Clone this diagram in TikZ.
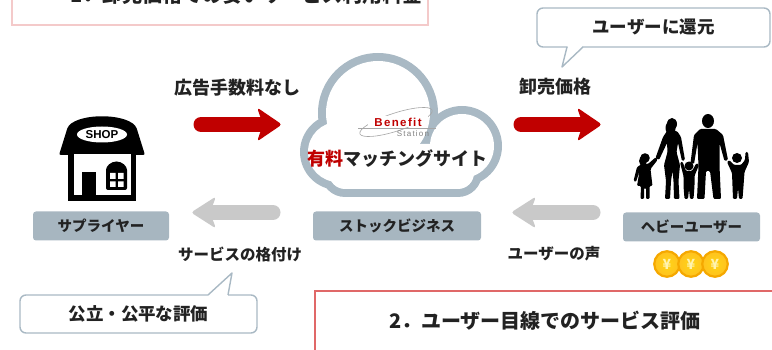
\documentclass[tikz,border=0pt]{standalone}
\usepackage{fontspec}
\setmainfont{Noto Sans CJK JP}
\newfontfamily\logofont{Liberation Sans}
\usetikzlibrary{shapes.geometric}
\definecolor{slate}{HTML}{A9B9C4}
\definecolor{tagfill}{HTML}{A7B6C0}
\definecolor{arrowred}{HTML}{C00000}
\definecolor{arrowgray}{HTML}{C9C9C9}
\definecolor{ink}{HTML}{222222}
\definecolor{frame}{HTML}{E06868}
\definecolor{coinedge}{HTML}{F5A800}
\definecolor{coinface}{HTML}{FFC21F}
\definecolor{coinmark}{HTML}{FFF3B0}
\begin{document}
\begin{tikzpicture}[x=1pt,y=-1pt,
  txt/.style={font=\fontsize{#1}{#1}\selectfont\bfseries, text=ink, inner sep=0pt},
  tag/.style={fill=tagfill, rounded corners=3pt, minimum width=#1, minimum height=29pt,
    inner sep=0pt, font=\fontsize{14.5}{16}\selectfont\bfseries, text=ink},
  bubble/.style={draw=slate, line width=1.4pt, fill=white, rounded corners=6pt,
    inner sep=0pt, font=\fontsize{17.5}{18}\selectfont\bfseries, text=ink},
  redshaft/.style={draw=arrowred, line width=15pt, line cap=round},
  grayshaft/.style={draw=arrowgray, line width=15pt, line cap=round},
  coin/.style={circle, inner color=coinface!70!yellow, outer color=coinface, draw=coinedge,
    line width=2.2pt, minimum size=25.5pt, inner sep=0pt, text=coinmark,
    font=\fontsize{14}{14}\selectfont\bfseries},
  person/.style={fill=black, rounded corners=1.2pt}]
\useasboundingbox (0,0) rectangle (772,350);

% ---------- heading frames ----------
\draw[frame, line width=0.7pt, double=frame!35, double distance=1.2pt] (12,-20) rectangle (428,25);
\node[txt=20, anchor=base west] (head1) at (70,3) {1．卸売価格での安いサービス利用料金};

\draw[frame, line width=2.2pt] (315,291) rectangle (800,380);
\node[txt=20] (head2) at (545,321) {2．ユーザー目線でのサービス評価};

% ---------- cloud ----------
\fill[slate] (378,113) circle[radius=60pt] (462,146) circle[radius=40pt] (338,152) circle[radius=38pt];
\fill[slate, rounded corners=24pt] (321,136) rectangle (482,197);
\fill[white] (378,113) circle[radius=52pt] (462,146) circle[radius=32pt] (338,152) circle[radius=30pt];
\fill[white, rounded corners=16pt] (329,144) rectangle (474,189);

% Benefit Station logo
\draw[gray!70, line width=0.6pt, rotate around={18:(396,122)}] (396,122) ellipse[x radius=38pt, y radius=9pt];
\draw[gray!70, line width=0.5pt] (358,128) -- (436,128);
\fill[white] (368,116) rectangle (428,127.5);
\node[inner sep=0pt, text=arrowred, font=\logofont\fontsize{11.5}{12}\selectfont\bfseries\addfontfeature{LetterSpace=12}] (logo1) at (398,122) {Benefit};
\node[inner sep=0pt, text=gray, font=\logofont\fontsize{8}{8}\selectfont\addfontfeature{LetterSpace=15}] (logo2) at (413,134) {Station};
\node[txt=18] (cloud) at (397,159) {\textcolor{arrowred}{有料}マッチングサイト};

% ---------- labels under icons ----------
\node[tag=136pt] (supplier) at (101,226) {サプライヤー};
\node[tag=168pt] (stock) at (397,226) {ストックビジネス};
\node[tag=137pt] (heavy) at (691.5,227) {ヘビーユーザー};

% ---------- arrow captions ----------
\node[txt=18] (noad) at (237,88) {広告手数料なし};
\node[txt=18] (whole) at (555,87) {卸売価格};
\node[txt=15.5] (rating) at (240,254) {サービスの格付け};
\node[txt=15.5] (voice) at (554,254) {ユーザーの声};

% ---------- arrows ----------
\coordinate (r1a) at (201,124.5); \coordinate (r1b) at (262,124.5);
\draw[redshaft] (r1a) -- (r1b);
\fill[arrowred, rounded corners=3pt] (257,107.5) -- (282,124.5) -- (257,141.5) -- (263,124.5) -- cycle;

\coordinate (r2a) at (521,124.5); \coordinate (r2b) at (582,124.5);
\draw[redshaft] (r2a) -- (r2b);
\fill[arrowred, rounded corners=3pt] (577,107.5) -- (602,124.5) -- (577,141.5) -- (583,124.5) -- cycle;

\coordinate (g1a) at (273,212.5); \coordinate (g1b) at (212,212.5);
\draw[grayshaft] (g1a) -- (g1b);
\fill[arrowgray, rounded corners=3pt] (216,196.5) -- (191,212.5) -- (216,228.5) -- (210,212.5) -- cycle;

\coordinate (g2a) at (593,212.5); \coordinate (g2b) at (532,212.5);
\draw[grayshaft] (g2a) -- (g2b);
\fill[arrowgray, rounded corners=3pt] (536,196.5) -- (511,212.5) -- (536,228.5) -- (530,212.5) -- cycle;

% ---------- speech bubbles ----------
\node[bubble, minimum width=233pt, minimum height=39pt] (giveback) at (653.5,27.5) {ユーザーに還元};
\fill[white] (567.5,44) -- (582.5,44) -- (582,48.5) -- (562,67) -- (567.5,48.5) -- cycle;
\draw[slate, line width=1.4pt, line join=round] (567,47) -- (562,67) -- (583,47);

\node[bubble, minimum width=237pt, minimum height=38pt] (fair) at (138.5,314) {公立・公平な評価};
\fill[white] (208.5,298) -- (227.5,298) -- (228,293.5) -- (232,273) -- (208,293.5) -- cycle;
\draw[slate, line width=1.4pt, line join=round] (208,295) -- (232,273) -- (228,295);

% ---------- shop icon ----------
\fill[black, rounded corners=2pt] (59,155) -- (66.5,131) .. controls (72,112) and (132,112) .. (137.5,131) -- (145,155) -- cycle;
\fill[white] (102,134.5) ellipse[x radius=25pt, y radius=8pt];
\node[inner sep=0pt, font=\logofont\fontsize{11.5}{12}\selectfont\bfseries] (shop) at (102,135) {SHOP};
\fill[black] (68,154) rectangle (136,201);
\fill[white] (73.5,154) rectangle (130.5,195.5);
\fill[black] (82,172) rectangle (96,196);
\fill[black, rounded corners=2pt] (106,190) -- (106,172) arc[start angle=180, end angle=0, radius=10.5pt] -- (127,190) -- cycle;
\fill[white] (110,173) rectangle (115.5,179) (118,173) rectangle (123.5,179)
             (110,181.5) rectangle (115.5,187) (118,181.5) rectangle (123.5,187);

% ---------- family silhouette ----------
% father
\fill (708,121) ellipse[x radius=6pt, y radius=7pt];
\fill[person] (700,129) -- (716,129) -- (723,135) -- (728,160) -- (724.5,161) -- (719.5,143) -- (719.5,166)
  -- (721,199) -- (713.5,199) -- (710,171) -- (706,171) -- (704.5,199) -- (697,199) -- (698.5,166)
  -- (697.5,143) -- (694,164) -- (690.5,163) -- (694,135) -- cycle;
% mother
\fill (672,124) ellipse[x radius=5pt, y radius=6pt];
\fill (670.5,128) ellipse[x radius=5pt, y radius=7pt];
\fill[person] (667,131) -- (677,131) -- (681,137) -- (685,160) -- (682,161) -- (678,143) -- (676.5,152)
  -- (680,165) -- (678.5,181) -- (679.5,199) -- (674,199) -- (673.5,181) -- (672.5,171) -- (671,181)
  -- (670,199) -- (665,199) -- (666,181) -- (664,165) -- (667.5,152) -- (667,143) -- (659,160)
  -- (655.5,158) -- (663,137) -- cycle;
% girl
\fill (645,158) circle[radius=4.8pt];
\fill (643,161) ellipse[x radius=4pt, y radius=5pt];
\fill[person] (642,164) -- (648,164) -- (656,157) -- (657.5,160) -- (650.5,169) -- (652.5,186) -- (649.5,186)
  -- (649.5,199) -- (646,199) -- (646,188) -- (644,188) -- (644,199) -- (640.5,199) -- (641,186)
  -- (637,186) -- (639.5,171) -- (636,182) -- (633.5,181) -- (637,167) -- cycle;
% small child
\fill (689,166) circle[radius=4.5pt];
\fill[person] (686,171) -- (692,171) -- (696.5,163) -- (699,165) -- (694.5,176) -- (694.5,186) -- (693.5,199)
  -- (690,199) -- (689,189) -- (688,199) -- (684.5,199) -- (683.5,186) -- (683.5,176) -- (680,162.5)
  -- (682.5,161.5) -- cycle;
% boy
\fill (737,158) circle[radius=5pt];
\fill[person] (734,165) -- (741,165) -- (745,160) -- (745.5,152) -- (748,152) -- (749,162) -- (744.5,172)
  -- (743.5,186) -- (742.5,199) -- (739,199) -- (738,188) -- (737,199) -- (733,199) -- (732.5,186)
  -- (732,173) -- (727,162) -- (729,160) -- cycle;

% ---------- coins ----------
\node[coin] (coin1) at (667,264) {¥};
\node[coin] (coin2) at (691,264) {¥};
\node[coin] (coin3) at (715,264) {¥};
\end{tikzpicture}
\end{document}
